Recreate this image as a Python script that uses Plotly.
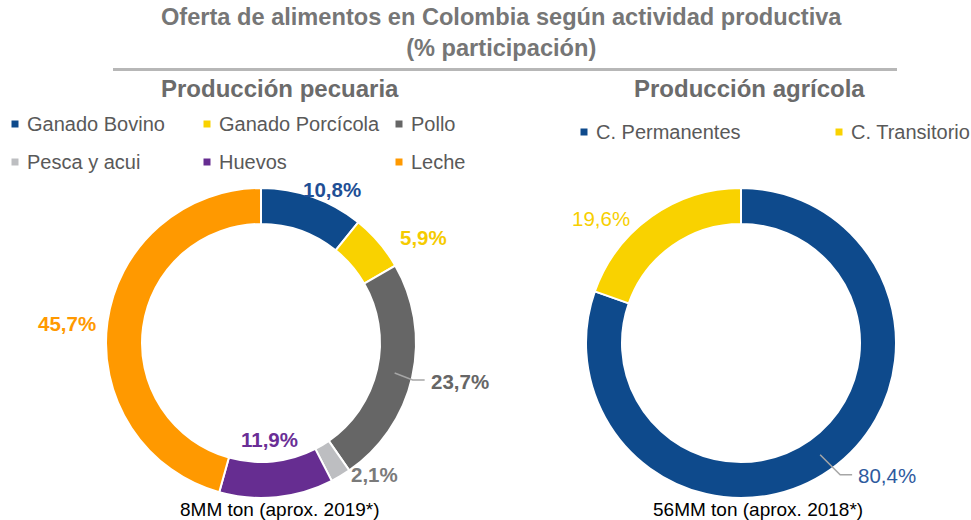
import math
import plotly.graph_objects as go

# ---------------- data ----------------
pec_labels = ["Ganado Bovino", "Ganado Porcícola", "Pollo", "Pesca y acui", "Huevos", "Leche"]
pec_values = [10.8, 5.9, 23.7, 2.1, 11.9, 45.7]
agr_labels = ["C. Permanentes", "C. Transitorio"]
agr_values = [80.4, 19.6]

title_text = "<b>Oferta de alimentos en Colombia según actividad productiva<br>(% participación)</b>"
pec_title = "Producción pecuaria"
agr_title = "Producción agrícola"
pec_note = "8MM ton (aprox. 2019*)"
agr_note = "56MM ton (aprox. 2018*)"

# ---------------- style ----------------
W, H = 971, 520
FONT = "Liberation Sans, Arial, sans-serif"
pec_colors = ["#0E4A8C", "#F9D200", "#666666", "#BDBEC1", "#662D91", "#FF9900"]
agr_colors = ["#0E4A8C", "#F9D200"]
pec_lbl_colors = ["#1F4F95", "#F5CB00", "#666666", "#7A7A7A", "#6A2E96", "#FF9900"]
agr_lbl_colors = ["#2E5A9E", "#F7CF00"]

R = 155          # outer radius px
R_IN = 119       # inner radius px
CY = 343
CX_L, CX_R = 261, 741

# label placement: (kind, dx, dy, xanchor)
pec_place = [("outer", 19, -7, "center"), ("outer", 19, -5, "left"), ("leader", 18, 7, "left"),
             ("outer", 8, -1, "left"), ("inner", -3, -22, "center"), ("outer", -9, 2, "right")]
agr_place = [("leader", 20, 20, "left"), ("outer", -19, 2, "right")]


def px(x, y):
    return x / W, 1 - y / H


def fmt(v):
    return f"{v:.1f}".replace(".", ",") + "%"


fig = go.Figure()


def add_pie(cx, values, labels, colors):
    x0, y1 = px(cx - R, CY - R)
    x1, y0 = px(cx + R, CY + R)
    fig.add_trace(go.Pie(
        labels=labels, values=values, sort=False, direction="clockwise", rotation=0,
        hole=R_IN / R, marker=dict(colors=colors, line=dict(color="white", width=2)),
        textinfo="none", hoverinfo="label+percent", showlegend=False,
        domain=dict(x=[x0, x1], y=[y0, y1]),
    ))


add_pie(CX_L, pec_values, pec_labels, pec_colors)
add_pie(CX_R, agr_values, agr_labels, agr_colors)

annotations = []
shapes = []


def add_labels(cx, values, colors, place, bold):
    total = sum(values)
    cum = 0
    for v, col, (kind, dx, dy, anchor) in zip(values, colors, place):
        ang = math.radians((cum + v / 2) / total * 360)
        cum += v
        s, c = math.sin(ang), math.cos(ang)
        txt = fmt(v)
        if bold:
            txt = "<b>" + txt + "</b>"
        if kind == "leader":
            rm = (R + R_IN) / 2
            x0, y0 = cx + rm * s, CY - rm * c
            x1, y1 = x0 + dx, y0 + dy
            x2 = x1 + 12
            p0, p1, p2 = px(x0, y0), px(x1, y1), px(x2, y1)
            shapes.append(dict(type="path", xref="paper", yref="paper",
                               path=f"M {p0[0]} {p0[1]} L {p1[0]} {p1[1]} L {p2[0]} {p2[1]}",
                               line=dict(color="#A6A6A6", width=1.5)))
            lx, ly = x2 + 4, y1 + 1
        else:
            r = R if kind == "outer" else R_IN
            lx, ly = cx + r * s + dx, CY - r * c + dy
        ax, ay = px(lx, ly)
        annotations.append(dict(x=ax, y=ay, xref="paper", yref="paper", text=txt,
                                showarrow=False, xanchor=anchor, yanchor="middle",
                                font=dict(family=FONT, size=20.5, color=col)))


add_labels(CX_L, pec_values, pec_lbl_colors, pec_place, True)
add_labels(CX_R, agr_values, agr_lbl_colors, agr_place, False)


def add_legend(labels, colors, xs, ys):
    for i, (lab, col) in enumerate(zip(labels, colors)):
        mx = xs[i % len(xs)]
        my = ys[i // len(xs)]
        a0 = px(mx - 3.5, my - 3.5)
        a1 = px(mx + 3.5, my + 3.5)
        shapes.append(dict(type="rect", xref="paper", yref="paper", x0=a0[0], x1=a1[0],
                           y0=a1[1], y1=a0[1], fillcolor=col, line=dict(width=0)))
        tx, ty = px(mx + 10, my)
        annotations.append(dict(x=tx, y=ty, xref="paper", yref="paper", text=lab,
                                showarrow=False, xanchor="left", yanchor="middle",
                                font=dict(family=FONT, size=20, color="#595959")))


add_legend(pec_labels, pec_colors, [15, 207, 399], [124, 162])
add_legend(agr_labels, agr_colors, [584, 839], [132])

# titles
for txt, x, y, size, col in [(title_text, 501, 32, 23.6, "#767676"),
                             ("<b>" + pec_title + "</b>", 280, 88, 24, "#6B6B6B"),
                             ("<b>" + agr_title + "</b>", 749, 88, 24, "#6B6B6B")]:
    ax, ay = px(x, y)
    annotations.append(dict(x=ax, y=ay, xref="paper", yref="paper", text=txt, showarrow=False,
                            xanchor="center", yanchor="middle",
                            font=dict(family=FONT, size=size, color=col)))

for txt, x in [(pec_note, 280), (agr_note, 758)]:
    ax, ay = px(x, 509)
    annotations.append(dict(x=ax, y=ay, xref="paper", yref="paper", text=txt, showarrow=False,
                            xanchor="center", yanchor="middle",
                            font=dict(family=FONT, size=19, color="#000000")))

l0 = px(113, 69.5)
l1 = px(897, 69.5)
shapes.append(dict(type="line", xref="paper", yref="paper", x0=l0[0], x1=l1[0], y0=l0[1], y1=l1[1],
                   line=dict(color="#B7B7B7", width=3)))

fig.update_layout(width=W, height=H, margin=dict(l=0, r=0, t=0, b=0),
                  paper_bgcolor="white", plot_bgcolor="white",
                  annotations=annotations, shapes=shapes, showlegend=False)

fig.write_html("out.html", config={"displayModeBar": False},
               post_script="document.body.style.margin='0';")
